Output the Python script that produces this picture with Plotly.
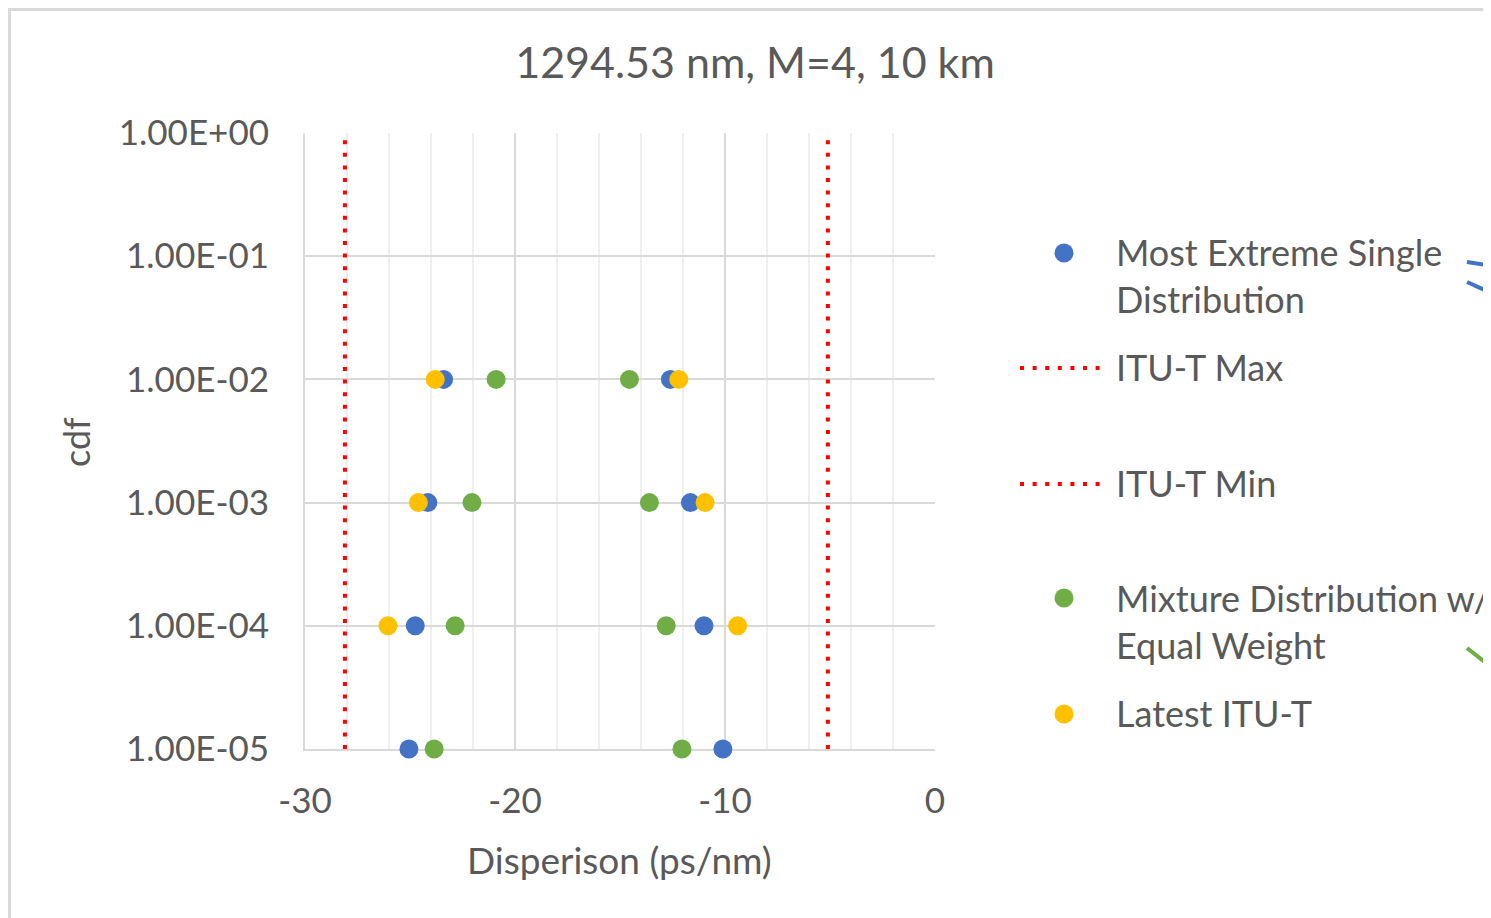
import plotly.graph_objects as go

# ---------------- data ----------------
ytick_vals = [1e-5, 1e-4, 1e-3, 1e-2, 1e-1, 1e0]
ytick_text = ["1.00E-05", "1.00E-04", "1.00E-03", "1.00E-02", "1.00E-01", "1.00E+00"]
xtick_vals = [-30, -20, -10, 0]
xtick_text = ["-30", "-20", "-10", "0"]

# Most Extreme Single Distribution (lower / upper tails)
single_y = [1e-2, 1e-3, 1e-4, 1e-5, 1e-2, 1e-3, 1e-4, 1e-5]
single_x = [-23.4, -24.15, -24.75, -25.05, -12.6, -11.65, -11.0, -10.1]

# Mixture Distribution w/ Equal Weight
mixture_y = [1e-2, 1e-3, 1e-4, 1e-5, 1e-2, 1e-3, 1e-4, 1e-5]
mixture_x = [-20.9, -22.05, -22.85, -23.85, -14.55, -13.6, -12.8, -12.05]

# Latest ITU-T
latest_y = [1e-2, 1e-3, 1e-4, 1e-2, 1e-3, 1e-4]
latest_x = [-23.8, -24.6, -26.05, -12.2, -10.95, -9.4]

# ITU-T limits
itu_max_x = [-5.1, -5.1]
itu_min_x = [-28.1, -28.1]
itu_y = [1e-5, 1e0]

names = ["Most Extreme Single Distribution", "ITU-T Max", "ITU-T Min",
         "Mixture Distribution w/ Equal Weight", "Latest ITU-T"]
colors = {"blue": "#4472C4", "red": "#FF0000", "green": "#70AD47", "yellow": "#FFC000"}

# ---------------- figure ----------------
OFF = 8                      # page body margin
W, H = 1491 - OFF, 918 - OFF
L, R, T, B = 305, 935, 133, 749  # plot area in page pixels
FONT = "Lato"
TXT = "#595959"


def px(x):
    return (x - L) / (R - L)


def py(y):
    return (B - y) / (B - T)


fig = go.Figure()
msize = 19
dotdash = "4px,8.6px"

fig.add_trace(go.Scatter(x=single_x, y=single_y, mode="markers", name=names[0], cliponaxis=False,
                         marker=dict(color=colors["blue"], size=msize, line=dict(width=0))))
fig.add_trace(go.Scatter(x=itu_max_x, y=itu_y, mode="lines", name=names[1],
                         line=dict(color=colors["red"], width=4, dash=dotdash)))
fig.add_trace(go.Scatter(x=itu_min_x, y=itu_y, mode="lines", name=names[2],
                         line=dict(color=colors["red"], width=4, dash=dotdash)))
fig.add_trace(go.Scatter(x=mixture_x, y=mixture_y, mode="markers", name=names[3], cliponaxis=False,
                         marker=dict(color=colors["green"], size=msize, line=dict(width=0))))
fig.add_trace(go.Scatter(x=latest_x, y=latest_y, mode="markers", name=names[4], cliponaxis=False,
                         marker=dict(color=colors["yellow"], size=msize, line=dict(width=0))))

shapes = []
annotations = []

# outer chart border
shapes.append(dict(type="rect", xref="paper", yref="paper",
                   x0=px(9.5), x1=px(1530), y0=py(940), y1=py(9.5),
                   line=dict(color="#D9D9D9", width=3), fillcolor="rgba(0,0,0,0)", layer="below"))

# manual legend
leg_text_x = px(1114)
sym_x = 1064
r = 9.5
legend_items = [
    ("marker", colors["blue"], 253, "Most Extreme Single<br>Distribution", 275),
    ("line", colors["red"], 368, "ITU-T Max", 367),
    ("line", colors["red"], 484, "ITU-T Min", 483),
    ("marker", colors["green"], 598, "Mixture Distribution w/<br>Equal Weight", 621),
    ("marker", colors["yellow"], 714, "Latest ITU-T", 713),
]
for kind, col, sy, label, ty in legend_items:
    if kind == "marker":
        shapes.append(dict(type="circle", xref="paper", yref="paper",
                           x0=px(sym_x - r), x1=px(sym_x + r), y0=py(sy + r), y1=py(sy - r),
                           fillcolor=col, line=dict(width=0)))
    else:
        shapes.append(dict(type="line", xref="paper", yref="paper",
                           x0=px(1020), x1=px(1102), y0=py(sy), y1=py(sy),
                           line=dict(color=col, width=4, dash=dotdash)))
    annotations.append(dict(text=label, xref="paper", yref="paper", x=leg_text_x, y=py(ty),
                            xanchor="left", yanchor="middle", align="left", showarrow=False,
                            font=dict(family=FONT, size=36, color=TXT)))

# partial callout lines at right edge
for (x0, y0, x1, y1, col) in [(1467, 262, 1500, 267, colors["blue"]),
                              (1467, 282, 1500, 297, colors["blue"]),
                              (1467, 648, 1500, 674, colors["green"]),
                              (1486, 632, 1500, 639, colors["green"])]:
    shapes.append(dict(type="line", xref="paper", yref="paper",
                       x0=px(x0), x1=px(x1), y0=py(y0), y1=py(y1),
                       line=dict(color=col, width=4)))

# axis titles
annotations.append(dict(text="Disperison (ps/nm)", xref="paper", yref="paper", x=px(619), y=py(859),
                        xanchor="center", yanchor="middle", showarrow=False,
                        font=dict(family=FONT, size=37, color=TXT)))
annotations.append(dict(text="cdf", xref="paper", yref="paper", x=px(76), y=py(442),
                        xanchor="center", yanchor="middle", showarrow=False, textangle=-90,
                        font=dict(family=FONT, size=36, color=TXT)))

fig.update_layout(
    width=W, height=H,
    margin=dict(l=L - OFF, r=1491 - R, t=T - OFF, b=918 - B, pad=0),
    paper_bgcolor="white", plot_bgcolor="white",
    showlegend=False,
    title=dict(text="1294.53 nm, M=4, 10 km", x=(755 - OFF) / W, xref="container", xanchor="center",
               y=1 - (63 - OFF) / H, yref="container", yanchor="middle",
               font=dict(family=FONT, size=43, color=TXT)),
    shapes=shapes, annotations=annotations,
    font=dict(family=FONT, color=TXT),
)

fig.update_xaxes(range=[-30, 0], tickvals=xtick_vals, ticktext=xtick_text, ticks="",
                 ticklabelstandoff=20, tickfont=dict(family=FONT, size=35, color=TXT),
                 showgrid=True, gridcolor="#D9D9D9", gridwidth=2,
                 minor=dict(dtick=2, showgrid=True, gridcolor="#EFEFEF", gridwidth=2),
                 showline=True, linecolor="#D9D9D9", linewidth=2, zeroline=False,
                 layer="below traces")
fig.update_yaxes(type="log", range=[-5, 0], tickvals=ytick_vals, ticktext=ytick_text, ticks="",
                 ticklabelstandoff=27, tickfont=dict(family=FONT, size=35, color=TXT),
                 showgrid=True, gridcolor="#D9D9D9", gridwidth=2,
                 showline=True, linecolor="#D9D9D9", linewidth=2, zeroline=False,
                 layer="below traces")

fig.write_html("out.html")
